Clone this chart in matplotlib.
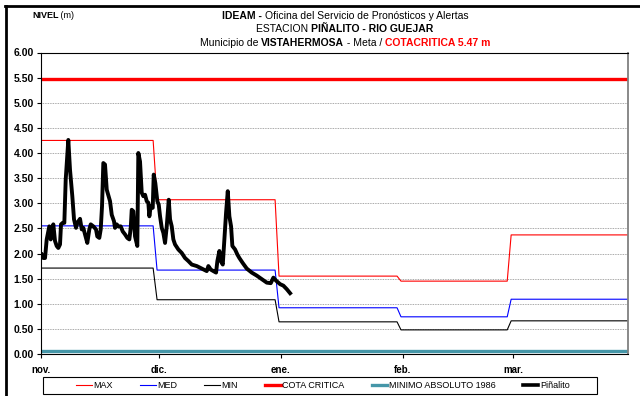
import numpy as np
import pandas as pd
import matplotlib
matplotlib.use("Agg")
import matplotlib.pyplot as plt
from matplotlib import font_manager
from matplotlib.lines import Line2D
from matplotlib.patches import Rectangle

# monthly reference levels (nov..mar)
months = pd.date_range("2012-11-01", "2013-03-01", freq="MS")
month_labels = ["nov.", "dic.", "ene.", "feb.", "mar."]
lvl_max = [4.25, 3.07, 1.55, 1.45, 2.37]
lvl_med = [2.55, 1.67, 0.92, 0.74, 1.09]
lvl_min = [1.71, 1.08, 0.64, 0.48, 0.66]
cota_critica = 5.47
minimo_abs = 0.05

# Piñalito readings: days since nov. 1 and level in m
pin_days = [0.18, 0.58, 1.02, 1.45, 2.11, 2.47, 2.72, 3.13, 3.56, 3.99, 4.40, 4.83,
            5.09, 5.52, 5.93, 6.28, 6.94, 7.37, 7.96, 8.39, 8.90, 9.23, 9.92, 10.35,
            10.76, 11.19, 11.77, 12.28, 12.64, 13.30, 13.98, 14.31, 14.82, 15.18, 15.51, 15.84,
            16.27, 16.71, 17.55, 17.98, 18.56, 18.81, 19.25, 19.65, 20.26, 20.77, 21.36, 21.94,
            22.45, 22.81, 23.06, 23.47, 23.90, 24.48, 24.74, 25.17, 25.60, 26.01, 26.44, 26.88,
            27.28, 27.54, 27.89, 28.40, 28.65, 29.06, 29.57, 29.93, 30.26, 30.69, 31.10, 31.53,
            31.96, 32.47, 32.80, 33.23, 33.64, 34.07, 34.91, 35.78, 36.61, 37.45, 38.32, 39.59,
            40.86, 42.13, 42.54, 43.15, 43.81, 44.50, 44.83, 45.34, 45.69, 46.20, 46.61, 47.04,
            47.47, 47.88, 48.31, 48.64, 49.33, 49.91, 50.42, 51.28, 52.30, 53.57, 54.84, 56.11,
            57.39, 58.40, 59.07, 59.75, 60.77, 61.61, 62.47, 63.31]
pin_vals = [1.98, 1.91, 1.91, 2.28, 2.54, 2.28, 2.38, 2.58, 2.25, 2.15, 2.11, 2.18,
            2.58, 2.61, 2.61, 3.47, 4.26, 3.67, 3.14, 2.68, 2.51, 2.61, 2.69, 2.48,
            2.51, 2.38, 2.21, 2.48, 2.58, 2.54, 2.48, 2.34, 2.31, 2.48, 2.94, 3.80,
            3.77, 3.27, 3.04, 2.77, 2.64, 2.51, 2.58, 2.54, 2.54, 2.44, 2.38, 2.31,
            2.28, 2.51, 2.87, 2.84, 2.34, 2.15, 4.00, 3.83, 3.21, 3.14, 3.17, 3.04,
            3.01, 2.74, 2.94, 2.91, 3.57, 3.40, 3.04, 2.97, 2.74, 2.51, 2.41, 2.21,
            2.54, 3.07, 2.68, 2.54, 2.28, 2.18, 2.08, 2.01, 1.91, 1.85, 1.78, 1.75,
            1.70, 1.65, 1.75, 1.68, 1.65, 1.62, 1.85, 2.05, 1.85, 1.78, 2.28, 2.81,
            3.24, 2.74, 2.54, 2.15, 2.08, 1.98, 1.91, 1.81, 1.70, 1.62, 1.56, 1.49,
            1.42, 1.41, 1.52, 1.46, 1.39, 1.36, 1.29, 1.21]

names = {f.name for f in font_manager.fontManager.ttflist}
narrow = "Liberation Sans Narrow" if "Liberation Sans Narrow" in names else "Liberation Sans"
plt.rcParams["font.family"] = ["Liberation Sans", "DejaVu Sans"]

start = months[0]
month_days = [(m - start).days for m in months]
x_end = 149.2


def monthly_steps(vals):
    # flat over each month, short ramp just before the next month starts
    xs, ys = [0], [vals[0]]
    for i in range(1, len(vals)):
        xs += [month_days[i] - 1.5, month_days[i] - 0.5]
        ys += [vals[i - 1], vals[i]]
    xs.append(x_end)
    ys.append(vals[-1])
    return xs, ys


W, H = 640, 396
fig = plt.figure(figsize=(W / 100, H / 100), dpi=100)
ax = fig.add_axes([41 / W, 1 - 354 / H, (628 - 41) / W, (354 - 52.5) / H])

teal = "#4596a8"
ax.plot(*monthly_steps(lvl_max), color="#ff0000", lw=0.8)
ax.plot(*monthly_steps(lvl_med), color="#0000ff", lw=0.8)
ax.plot(*monthly_steps(lvl_min), color="#000000", lw=0.8)
ax.axhline(cota_critica, color="#ff0000", lw=2.4)
ax.axhline(minimo_abs, color=teal, lw=2.4)
ax.plot(pin_days, pin_vals, color="black", lw=2.8)

ax.set_xlim(0, x_end)
ax.set_ylim(0, 6)
ax.set_yticks(np.arange(0, 6.01, 0.5))
ax.set_yticklabels([f"{v:.2f}" for v in np.arange(0, 6.01, 0.5)],
                   fontsize=7.5, fontweight="bold")
ax.set_xticks(month_days)
ax.set_xticklabels(month_labels, fontsize=7, fontweight="bold")
ax.tick_params(axis="y", length=3, width=0.8, pad=2)
ax.tick_params(axis="x", length=3, width=0.8, pad=5, direction="out")
ax.yaxis.grid(True, color="#8c8c8c", lw=0.6, ls=(0, (1, 1)))
ax.set_axisbelow(True)
for s in ["left", "bottom", "top"]:
    ax.spines[s].set_color("black")
    ax.spines[s].set_linewidth(0.8)
ax.spines["right"].set_color("#808080")
ax.spines["right"].set_linewidth(1.3)

# legend, frame drawn separately
handles = [Line2D([], [], color="#ff0000", lw=0.8),
           Line2D([], [], color="#0000ff", lw=0.8),
           Line2D([], [], color="black", lw=0.8),
           Line2D([], [], color="#ff0000", lw=2.4),
           Line2D([], [], color=teal, lw=2.4),
           Line2D([], [], color="black", lw=2.6)]
labels = ["MAX", "MED", "MIN", "COTA CRITICA", "MINIMO ABSOLUTO 1986", "Piñalito"]
fig.legend(handles, labels, loc="center", bbox_to_anchor=(323 / W, 1 - 385.5 / H),
           ncol=6, frameon=False, handlelength=1.7, handletextpad=0.2,
           columnspacing=3.0, prop={"family": narrow, "size": 6.5})
fig.patches.append(Rectangle((43 / W, 1 - 394 / H), (597 - 43) / W, 17 / H,
                             transform=fig.transFigure, fill=False,
                             edgecolor="black", lw=0.8))

# outer border (top and left)
fig.add_artist(Line2D([5 / W, 1], [1 - 6 / H, 1 - 6 / H], color="black", lw=2,
                      transform=fig.transFigure))
fig.add_artist(Line2D([5.5 / W, 5.5 / W], [0, 1 - 6 / H], color="black", lw=2,
                      transform=fig.transFigure))

renderer = fig.canvas.get_renderer()


def rich_line(xc, yc, parts, size, ha="center"):
    texts = [fig.text(0, 1 - yc / H, s, fontsize=size, fontweight=w, color=c,
                      family=narrow, va="center", ha="left") for s, w, c in parts]
    widths = [t.get_window_extent(renderer).width for t in texts]
    x = xc - sum(widths) / 2 if ha == "center" else xc
    for t, w in zip(texts, widths):
        t.set_x(x / W)
        x += w


rich_line(345, 16, [("IDEAM - ", "bold", "black"),
                    ("Oficina del Servicio de Pronósticos y Alertas", "normal", "black")], 7.5)
rich_line(345, 29.5, [("ESTACION ", "normal", "black"),
                      ("PIÑALITO - RIO GUEJAR", "bold", "black")], 7.5)
rich_line(345, 43, [("Municipio de ", "normal", "black"),
                    ("VISTAHERMOSA", "bold", "black"),
                    (" - Meta / ", "normal", "black"),
                    ("COTACRITICA 5.47 m", "bold", "#ff0000")], 7.5)
rich_line(32, 16, [("NIVEL", "bold", "black"), (" (m)", "normal", "black")], 6.5, ha="left")

fig.savefig("out.png", dpi=100)
